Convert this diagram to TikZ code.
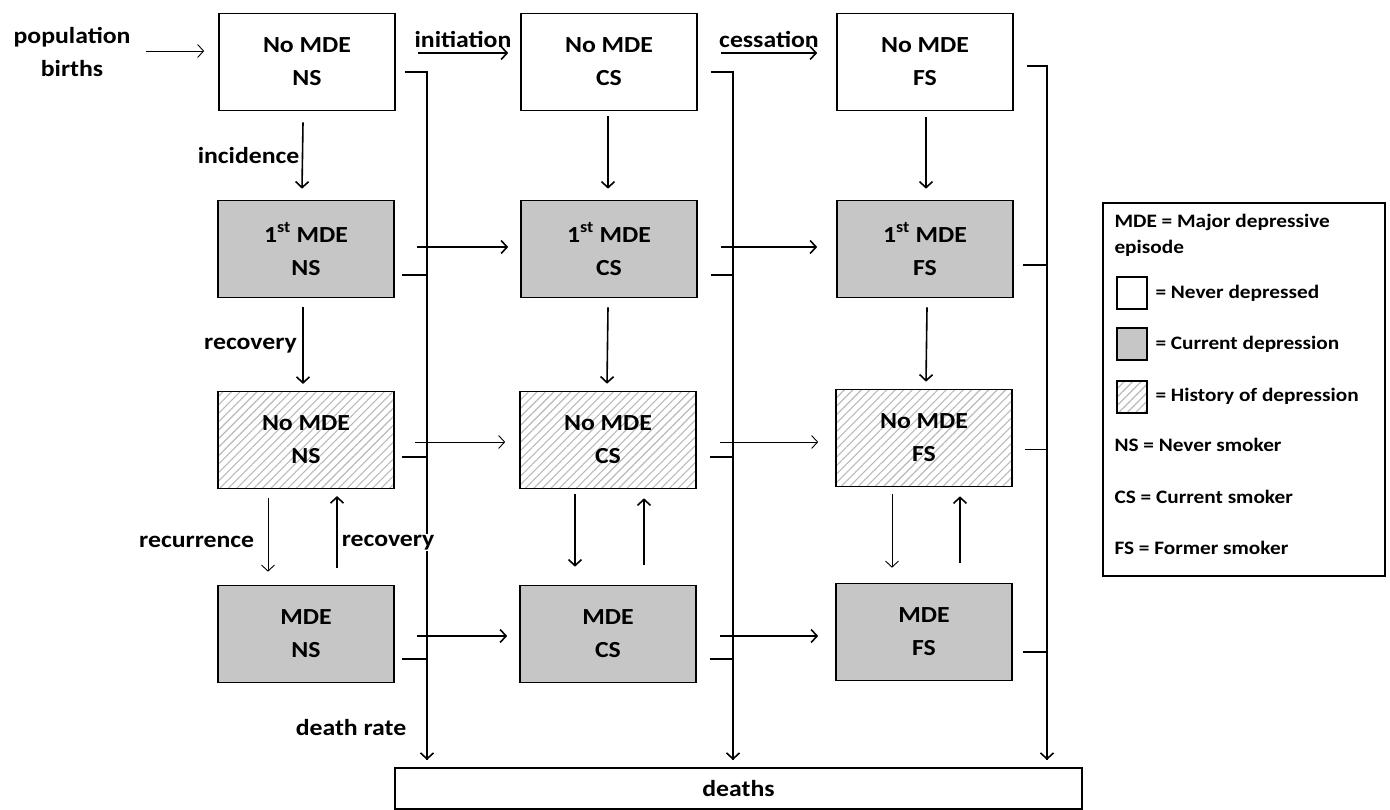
\documentclass[tikz,border=0pt]{standalone}
\usepackage{fontspec}
\setmainfont{Carlito}[FakeStretch=1.12]
\usetikzlibrary{arrows.meta,patterns.meta}

\tikzset{
  every node/.style={font=\bfseries\fontsize{23}{33}\selectfont},
  box/.style={draw, line width=1.6pt, minimum width=176pt, minimum height=97pt,
    align=center, inner sep=0pt},
  nodep/.style={box, fill=white},
  curdep/.style={box, fill=gray!45},
  histdep/.style={box, pattern={Lines[angle=45,distance=6pt,line width=1.1pt]},
    pattern color=gray!55},
  key/.style={minimum width=30pt, minimum height=32pt, line width=1.4pt},
  flow/.style={line width=1.6pt, -{Straight Barb[length=6pt,width=13pt]}},
  thinflow/.style={line width=0.9pt, -{Straight Barb[length=6pt,width=13pt]}},
  stub/.style={line width=1.6pt},
  legtxt/.style={anchor=west, align=left, font=\bfseries\fontsize{19}{26}\selectfont},
}

\begin{document}
\begin{tikzpicture}[x=1pt,y=-1pt]
  \useasboundingbox (0,0) rectangle (1390,810);

  % states: rows = depression history, columns = smoking status
  \node[nodep] (nn) at (307,62) {No MDE\\NS};
  \node[nodep] (nc) at (609,62) {No MDE\\CS};
  \node[nodep] (nf) at (925,62) {No MDE\\FS};

  \node[curdep] (fn) at (306,249) {1\textsuperscript{st} MDE\\NS};
  \node[curdep] (fc) at (609,249) {1\textsuperscript{st} MDE\\CS};
  \node[curdep] (ff) at (925,249) {1\textsuperscript{st} MDE\\FS};

  \node[histdep] (hn) at (306,440) {No MDE\\NS};
  \node[histdep] (hc) at (608,440) {No MDE\\CS};
  \node[histdep] (hf) at (924,438) {No MDE\\FS};

  \node[curdep] (mn) at (306,634) {MDE\\NS};
  \node[curdep] (mc) at (608,634) {MDE\\CS};
  \node[curdep] (mf) at (924,632) {MDE\\FS};

  \node[draw, line width=1.2pt, minimum width=687pt, minimum height=41pt]
    (deaths) at (738.5,788.5) {deaths};

  \node[align=center] (pop) at (72,52) {population\\births};
  \node (dr) at (351,728) {death rate};

  % death flows
  \coordinate (d1) at (427,760);
  \coordinate (d2) at (733,760);
  \coordinate (d3) at (1047,760);

  \draw[flow] ([shift={(9,10)}]nn.east) -| (d1);
  \draw[flow] ([shift={(13,10)}]nc.east) -| (d2);
  \draw[flow] ([shift={(13,4)}]nf.east) -| (d3);

  \draw[stub] ([shift={(7,26)}]fn.east) -| (d1);
  \draw[stub] ([shift={(7,17)}]hn.east) -| (d1);
  \draw[stub] ([shift={(7,25)}]mn.east) -| (d1);
  \draw[stub] ([shift={(13,26)}]fc.east) -| (d2);
  \draw[stub] ([shift={(13,17)}]hc.east) -| (d2);
  \draw[stub] ([shift={(13,25)}]mc.east) -| (d2);
  \draw[stub] ([shift={(9,16)}]ff.east) -| (d3);
  \draw[line width=0.9pt] ([shift={(12,11)}]hf.east) -| (d3);
  \draw[stub] ([shift={(10,20)}]mf.east) -| (d3);

  % smoking transitions
  \draw[thinflow] ([shift={(12,-1)}]pop.east) -- ([shift={(-14,-11)}]nn.west);
  \draw[flow] ([shift={(22,-9)}]nn.east) -- node[above=1pt]{initiation}
    ([shift={(-12,-9)}]nc.west);
  \draw[flow] ([shift={(23,-9)}]nc.east) -- node[above=1pt]{cessation}
    ([shift={(-19,-9)}]nf.west);

  \draw[flow] ([shift={(22,-2)}]fn.east) -- ([shift={(-12,-2)}]fc.west);
  \draw[flow] ([shift={(23,-2)}]fc.east) -- ([shift={(-19,-2)}]ff.west);
  \draw[thinflow] ([shift={(20,2)}]hn.east) -- ([shift={(-14,2)}]hc.west);
  \draw[thinflow] ([shift={(23,2)}]hc.east) -- ([shift={(-17,4)}]hf.west);
  \draw[flow] ([shift={(22,2)}]mn.east) -- ([shift={(-12,2)}]mc.west);
  \draw[flow] ([shift={(23,2)}]mc.east) -- ([shift={(-17,4)}]mf.west);

  % depression transitions
  \draw[flow] ([shift={(-4,11)}]nn.south) -- node[left=-1pt]{incidence}
    ([shift={(-4,-11)}]fn.north);
  \draw[flow] ([shift={(-1,5)}]nc.south) -- ([shift={(-1,-11)}]fc.north);
  \draw[flow] ([shift={(1,6)}]nf.south) -- ([shift={(1,-11)}]ff.north);

  \draw[flow] ([shift={(-3,9)}]fn.south) -- node[left=2pt]{recovery}
    ([shift={(-3,-7)}]hn.north);
  \draw[flow] ([shift={(-1,9)}]fc.south) -- ([shift={(-1,-7)}]hc.north);
  \draw[flow] ([shift={(2,9)}]ff.south) -- ([shift={(2,-7)}]hf.north);

  \draw[thinflow] ([shift={(-38,9)}]hn.south) -- node[pos=0.6, left=10pt]{recurrence}
    ([shift={(-38,-13)}]mn.north);
  \draw[flow] ([shift={(31,-17)}]mn.north) -- node[pos=0.35, right=3pt, fill=white,
    inner sep=1pt]{recovery} ([shift={(31,7)}]hn.south);
  \draw[flow] ([shift={(-33,5)}]hc.south) -- ([shift={(-33,-18)}]mc.north);
  \draw[flow] ([shift={(36,-20)}]mc.north) -- ([shift={(36,9)}]hc.south);
  \draw[thinflow] ([shift={(-32,7)}]hf.south) -- ([shift={(-32,-15)}]mf.north);
  \draw[flow] ([shift={(36,-20)}]mf.north) -- ([shift={(36,9)}]hf.south);

  % legend
  \node[draw, line width=1.2pt, minimum width=282pt, minimum height=373pt]
    (leg) at (1244,389.5) {};
  \node[legtxt] (l0) at (1111,235) {MDE = Major depressive\\episode};
  \node[nodep, key] (k1) at (1132,293) {};
  \node[curdep, key] (k2) at (1132,344) {};
  \node[histdep, key] (k3) at (1132,397) {};
  \node[legtxt] (l1) at (1152,293) {= Never depressed};
  \node[legtxt] (l2) at (1152,344) {= Current depression};
  \node[legtxt] (l3) at (1152,396) {= History of depression};
  \node[legtxt] (l4) at (1111,445) {NS = Never smoker};
  \node[legtxt] (l5) at (1111,497) {CS = Current smoker};
  \node[legtxt] (l6) at (1111,548) {FS = Former smoker};
\end{tikzpicture}
\end{document}
